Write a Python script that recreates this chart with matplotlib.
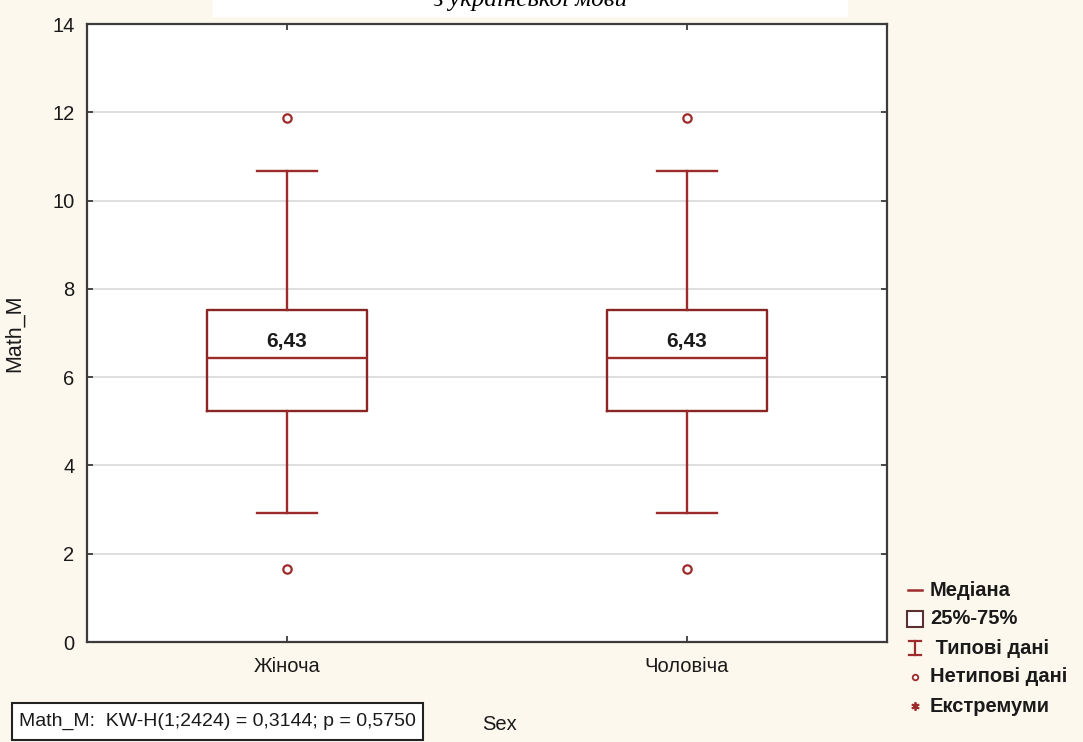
import matplotlib.pyplot as plt
from matplotlib.patches import Rectangle

# дані з рисунка (Statistica, критерій Краскела-Уолліса)
groups = ['Жіноча', 'Чоловіча']
q1 = [5.23, 5.23]
medians = [6.43, 6.43]
q3 = [7.52, 7.52]
whisker_low = [2.92, 2.92]
whisker_high = [10.67, 10.67]
outliers = [[11.87, 1.65], [11.87, 1.65]]
y_ticks = [0, 2, 4, 6, 8, 10, 12, 14]
legend_labels = ['Медіана', '25%-75%', ' Типові дані', 'Нетипові дані', 'Екстремуми']
stat_text = 'Math_M:  KW-H(1;2424) = 0,3144; p = 0,5750'
title_text = 'з української мови'

plt.rcParams['font.family'] = ['Liberation Sans', 'DejaVu Sans']

W, H = 1083, 742
red = '#9e2b2b'
dark_red = '#8a2525'
txt = '#1a1a1a'

fig = plt.figure(figsize=(W / 100, H / 100), dpi=100, facecolor='#fdf8ee')
ax = fig.add_axes([87 / W, 1 - 642 / H, 800 / W, 618 / H])
ax.set_facecolor('white')

stats = []
for i, g in enumerate(groups):
    stats.append(dict(med=medians[i], q1=q1[i], q3=q3[i],
                      whislo=whisker_low[i], whishi=whisker_high[i],
                      fliers=outliers[i], label=g))

ax.bxp(stats, positions=range(len(groups)), widths=0.4, capwidths=0.15,
       boxprops=dict(color=dark_red, linewidth=1.7),
       medianprops=dict(color=red, linewidth=1.7),
       whiskerprops=dict(color=red, linewidth=1.7),
       capprops=dict(color=red, linewidth=1.7),
       flierprops=dict(marker='o', markersize=6, markerfacecolor='white',
                       markeredgecolor=red, markeredgewidth=1.6))

# підписи медіан
for i, m in enumerate(medians):
    ax.text(i, m + 0.37, f'{m:.2f}'.replace('.', ','), ha='center', va='center',
            fontsize=15, fontweight='bold', color=txt)

ax.set_xlim(-0.5, len(groups) - 0.5)
ax.set_ylim(0, 14)
ax.set_yticks(y_ticks)
ax.yaxis.grid(True, color='#d9d9d9', linewidth=1.2)
ax.set_axisbelow(True)

for s in ax.spines.values():
    s.set_color('#3c3c3c')
    s.set_linewidth(1.6)
ax.tick_params(direction='in', length=4, width=1.3, color='#3c3c3c',
               top=True, right=True, labelsize=14.5, labelcolor=txt)
ax.tick_params(axis='y', pad=9)
ax.tick_params(axis='x', pad=11)

ax.set_ylabel('Math_M', fontsize=15.5, color=txt)
ax.yaxis.set_label_coords((25 - 87) / 800, (642 - 333) / 618)
ax.set_xlabel('Sex', fontsize=14.5, color=txt)
ax.xaxis.set_label_coords((500 - 87) / 800, (642 - 715) / 618)

# обрізаний заголовок угорі
fig.patches.append(Rectangle((213 / W, 1 - 17 / H), (848 - 213) / W, 17 / H,
                             transform=fig.transFigure, facecolor='white',
                             edgecolor='none'))
fig.text(530 / W, 1 - 6 / H, title_text, ha='center', va='baseline',
         family='Liberation Serif', fontstyle='italic', fontsize=18)

# рамка зі статистикою
fig.patches.append(Rectangle((12 / W, 1 - 740 / H), (423 - 12) / W, 37 / H,
                             transform=fig.transFigure, facecolor='white',
                             edgecolor='#222222', linewidth=1.5))
fig.text(19 / W, 1 - 721 / H, stat_text, ha='left', va='center',
         fontsize=14, color=txt)

# легенда праворуч
lg = fig.add_axes([0, 0, 1, 1])
lg.set_xlim(0, W)
lg.set_ylim(H, 0)
lg.axis('off')
lg.patch.set_alpha(0)
mx = 915
for i, lab in enumerate(legend_labels):
    y = 590 + 29 * i
    if i == 0:
        lg.plot([908, 922], [y, y], color=red, lw=1.8)
    elif i == 1:
        lg.plot(mx, y, marker='s', markersize=11, markerfacecolor='white',
                markeredgecolor='#5a3030', markeredgewidth=1.5)
    elif i == 2:
        lg.plot([mx, mx], [y - 7, y + 7], color=red, lw=1.6)
        lg.plot([909, 921], [y - 7, y - 7], color=red, lw=1.6)
        lg.plot([909, 921], [y + 7, y + 7], color=red, lw=1.6)
    elif i == 3:
        lg.plot(mx, y, marker='o', markersize=4, markerfacecolor='white',
                markeredgecolor=red, markeredgewidth=1.3)
    else:
        lg.plot(mx, y, marker=(6, 2, 0), markersize=6, color=red, mew=1.3)
    lg.text(930, y, lab, ha='left', va='center', fontsize=14.5,
            fontweight='bold', color=txt)

fig.savefig('out.png', dpi=100, facecolor=fig.get_facecolor())
